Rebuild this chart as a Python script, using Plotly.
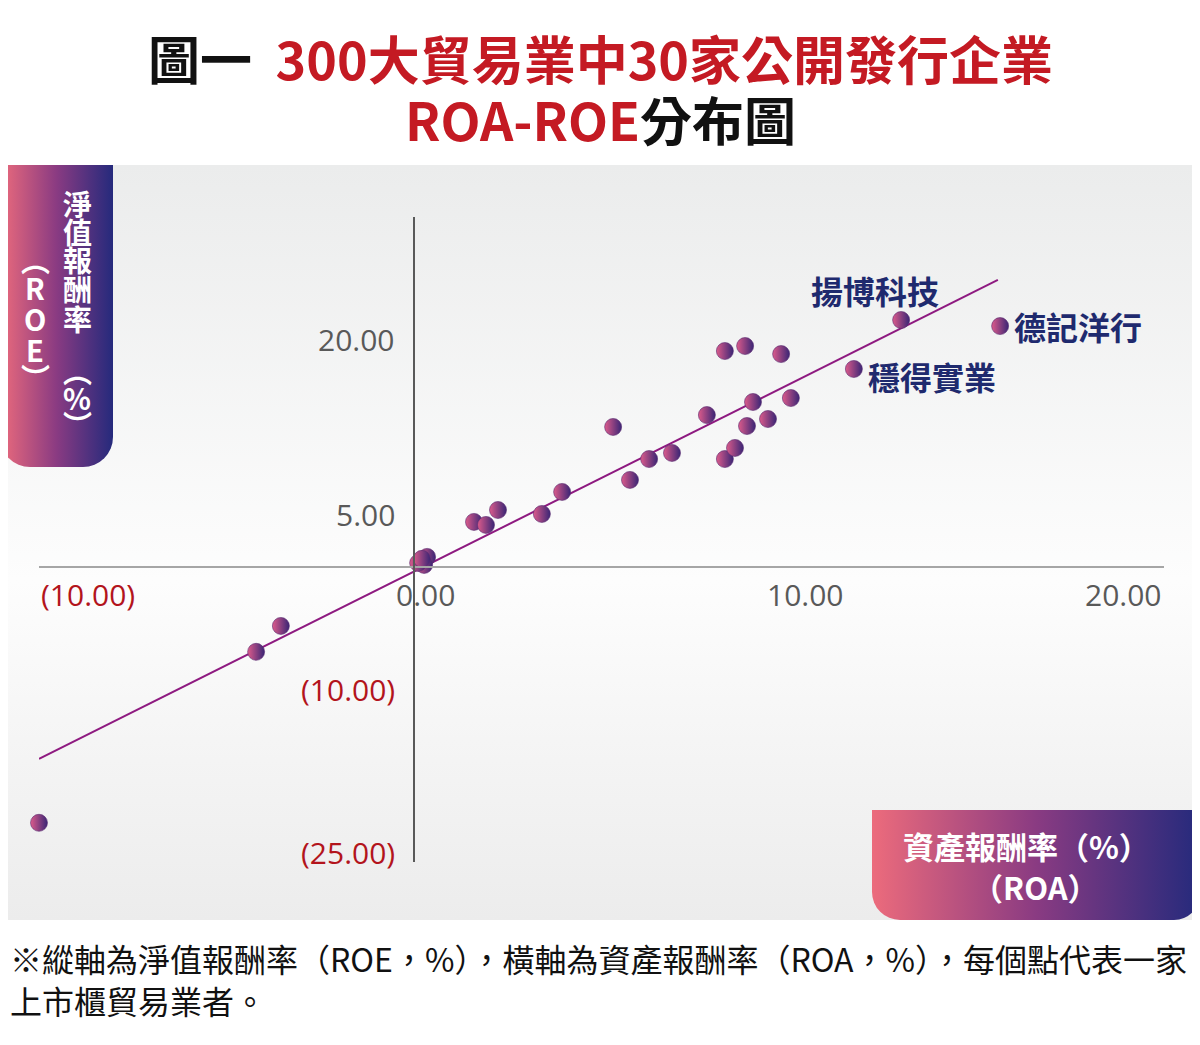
import base64
import plotly.graph_objects as go

# ROA (%) / ROE (%) of the 30 listed trading companies
roa = [-10.0, -4.21, -3.55, 0.16, 0.35, 0.27, 0.11, 0.21, 1.60, 1.92,
       2.24, 3.41, 3.95, 5.31, 5.76, 6.27, 6.88, 7.81, 8.29, 8.56,
       8.88, 9.04, 9.44, 10.05, 8.29, 8.83, 9.79, 11.73, 12.99, 15.63]
roe = [-21.94, -7.28, -5.06, 0.43, 0.86, 0.17, 0.34, 0.69, 3.86, 3.60,
       4.88, 4.54, 6.43, 12.00, 7.46, 9.25, 9.77, 13.02, 9.25, 10.20,
       12.08, 14.14, 12.68, 14.48, 18.51, 18.94, 18.25, 16.97, 21.17, 20.65]

# trend line ends
trend_x = [-10.0, 15.57]
trend_y = [-16.45, 24.6]

# named companies
named = ["揚博科技", "德記洋行", "穩得實業"]
named_roa = [12.99, 15.63, 11.73]
named_roe = [21.17, 20.65, 16.97]

x_ticks = [-10, 0, 10, 20]
x_ticktext = ["(10.00)", "0.00", "10.00", "20.00"]
y_ticks = [-25, -10, 5, 20]
y_ticktext = ["(25.00)", "(10.00)", "5.00", "20.00"]

# page has an 8px body margin, so the figure is drawn 8px in
OFF = 8
W, H = 1192, 1029
XR = [-10, 20]
YR = [-25.3, 30]
RED = "#c41a23"
NAVY = "#1f2a6e"
GRAY = "#595959"
NEG = "#b3141c"
FONT = "Noto Sans CJK TC"
NUMFONT = "Open Sans"


def px(x):
    return (x - OFF) / W


def py(y):
    return 1 - (y - OFF) / H


def svg_uri(svg):
    return "data:image/svg+xml;base64," + base64.b64encode(svg.encode()).decode()


def text_at(x, y, text, size, color, weight="normal", xanchor="center"):
    return dict(x=px(x), y=py(y), xref="paper", yref="paper", showarrow=False,
                xanchor=xanchor, yanchor="middle", text=text,
                font=dict(family=FONT, size=size, color=color, weight=weight))


xdom = [px(39), px(1164)]
ydom = [py(862), py(217)]

fig = go.Figure()

fig.add_trace(go.Scatter(
    x=trend_x, y=trend_y, mode="lines",
    line=dict(color="#8e1a80", width=2), hoverinfo="skip"))

fig.add_trace(go.Scatter(
    x=roa, y=roe, mode="markers", cliponaxis=False,
    marker=dict(size=17, color="#dc5b8b",
                gradient=dict(type="horizontal", color="#3a2575"),
                line=dict(color="#5b2a70", width=0.6))))

# background and label boxes (gradient svg)
bg_svg = ("<svg xmlns='http://www.w3.org/2000/svg' width='1200' height='755'>"
          "<defs><linearGradient id='g' x1='0' y1='0' x2='0' y2='1'>"
          "<stop offset='0' stop-color='#ebecec'/>"
          "<stop offset='0.55' stop-color='#fdfdfd'/>"
          "<stop offset='1' stop-color='#ececec'/></linearGradient></defs>"
          "<rect width='1200' height='755' fill='url(#g)'/></svg>")

grad = ("<defs><linearGradient id='h' x1='0' y1='0' x2='1' y2='0'>"
        "<stop offset='0' stop-color='#ec6b7c'/>"
        "<stop offset='0.5' stop-color='#8a3b82'/>"
        "<stop offset='1' stop-color='#252a7c'/></linearGradient></defs>")
ybox_svg = ("<svg xmlns='http://www.w3.org/2000/svg' width='113' height='302'>" + grad +
            "<path d='M0 0 H113 V272 A30 30 0 0 1 83 302 H30 A30 30 0 0 1 0 272 Z' "
            "fill='url(#h)'/></svg>")
xbox_svg = ("<svg xmlns='http://www.w3.org/2000/svg' width='328' height='110'>" + grad +
            "<path d='M0 0 H328 V84 A26 26 0 0 1 302 110 H28 A28 28 0 0 1 0 82 Z' "
            "fill='url(#h)'/></svg>")

images = [
    dict(source=svg_uri(bg_svg), xref="paper", yref="paper", x=px(0), y=py(165),
         sizex=1200 / W, sizey=755 / H, xanchor="left", yanchor="top",
         sizing="stretch", layer="below"),
    dict(source=svg_uri(ybox_svg), xref="paper", yref="paper", x=px(0), y=py(165),
         sizex=113 / W, sizey=302 / H, xanchor="left", yanchor="top",
         sizing="stretch", layer="below"),
    dict(source=svg_uri(xbox_svg), xref="paper", yref="paper", x=px(872), y=py(810),
         sizex=328 / W, sizey=110 / H, xanchor="left", yanchor="top",
         sizing="stretch", layer="below"),
]

ann = []
# title
ann.append(text_at(600, 58, "圖一  <span style='color:%s'>300大貿易業中30家公開發行企業</span>" % RED,
                   52, "#111111", "bold"))
ann.append(text_at(600, 118, "<span style='color:%s'>ROA-ROE</span>分布圖" % RED,
                   52, "#111111", "bold"))

# vertical y-axis title
col1 = [("淨", 203), ("值", 231), ("報", 259), ("酬", 288), ("率", 318),
        ("︵", 370), ("%", 397), ("︶", 424)]
col2 = [("︵", 259), ("R", 287), ("O", 318), ("E", 349), ("︶", 377)]
for ch, yy in col1:
    ann.append(text_at(77, yy, ch, 29, "white", "bold"))
for ch, yy in col2:
    ann.append(text_at(35, yy, ch, 29, "white", "bold"))

# x-axis title
ann.append(text_at(1026, 845, "資產報酬率（%）", 31, "white", "bold"))
ann.append(text_at(1035, 886, "（ROA）", 31, "white", "bold"))

# x tick labels
x_lab_style = [("left", 0), ("center", 11), ("center", 16), ("right", 0)]
for v, t, (anc, sh) in zip(x_ticks, x_ticktext, x_lab_style):
    ann.append(dict(x=v, y=0, xref="x", yref="y", showarrow=False, text=t,
                    xanchor=anc, yanchor="middle", xshift=sh, yshift=-28,
                    font=dict(family=NUMFONT, size=30,
                              color=NEG if v < 0 else GRAY)))

# y tick labels, left of the vertical axis
y_lab_shift = [6, -6, -6, -6]
for v, t, sh in zip(y_ticks, y_ticktext, y_lab_shift):
    ann.append(dict(x=0, y=v, xref="x", yref="y", showarrow=False, text=t,
                    xanchor="right", yanchor="middle", xshift=-17, yshift=sh,
                    font=dict(family=NUMFONT, size=30,
                              color=NEG if v < 0 else GRAY)))

# company labels
shifts = [(-26, 30, "center"), (12, 0, "left"), (12, -7, "left")]
for name, xv, yv, (dx, dy, anc) in zip(named, named_roa, named_roe, shifts):
    ann.append(dict(x=xv, y=yv, xref="x", yref="y", showarrow=False, text=name,
                    xanchor=anc, yanchor="middle", xshift=dx, yshift=dy,
                    font=dict(family=FONT, size=32, color=NAVY, weight="bold")))

# footnote
ann.append(text_at(8, 958, "※縱軸為淨值報酬率（ROE，%），橫軸為資產報酬率（ROA，%），每個點代表一家",
                   32, "#111111", xanchor="left"))
ann.append(text_at(8, 1000, "上市櫃貿易業者。", 32, "#111111", xanchor="left"))

fig.update_layout(
    width=W, height=H,
    margin=dict(l=0, r=0, t=0, b=0, autoexpand=False),
    paper_bgcolor="white",
    plot_bgcolor="rgba(0,0,0,0)",
    showlegend=False,
    images=images,
    annotations=ann,
    xaxis=dict(domain=xdom, range=XR, anchor="free", automargin=False,
               position=ydom[0] + (0 - YR[0]) / (YR[1] - YR[0]) * (ydom[1] - ydom[0]),
               showline=True, linecolor="#a6a6a6", linewidth=1.5,
               showgrid=False, zeroline=False, showticklabels=False, ticks=""),
    yaxis=dict(domain=ydom, range=YR, anchor="free", automargin=False,
               position=xdom[0] + (0 - XR[0]) / (XR[1] - XR[0]) * (xdom[1] - xdom[0]),
               showline=True, linecolor="#595959", linewidth=1.5,
               showgrid=False, zeroline=False, ticks="", showticklabels=False),
)

fig.write_html("out.html")
